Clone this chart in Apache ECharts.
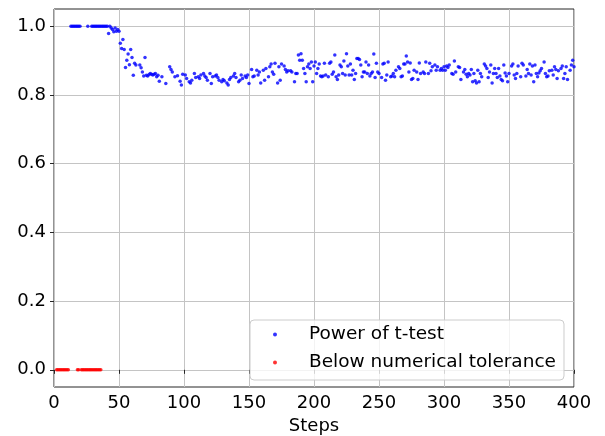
<!DOCTYPE html>
<html>
<head>
<meta charset="utf-8">
<script src="https://cdn.jsdelivr.net/npm/echarts@6/dist/echarts.min.js"></script>
<style>
html,body{margin:0;padding:0;background:#fff;}
#chart{width:605px;height:436px;}
</style>
</head>
<body>
<div id="chart"></div>
<script>
var xTicks = [0, 50, 100, 150, 200, 250, 300, 350, 400];
var yTicks = [0, 0.2, 0.4, 0.6, 0.8, 1.0];
var seriesNames = ['Power of t-test', 'Below numerical tolerance'];

// [step, power]
var powerPoints = [
[13,1],[14,1],[15,1],[16,1],[17,1],[18,1],[19,1],[20,1],[26,1],
[29,1],[30,1],[31,1],[32,1],[33,1],[34,1],[35,1],[36,1],[37,1],[38,1],[39,1],[40,1],[41,1],
[42,0.979],[43,1.0],[44,0.995],[45,0.99],[46,0.984],[47,0.995],[48,0.985],[49,0.99],[50,0.985],
[51,0.95],[52,0.935],[53,0.961],[54,0.932],[55,0.88],[56,0.901],[57,0.919],[58,0.888],[59,0.932],
[60,0.909],[61,0.857],[62,0.892],[63,0.887],[66,0.887],[67,0.879],[68,0.867],[69,0.855],[70,0.909],
[71,0.857],[72,0.855],[73,0.859],[74,0.862],[75,0.860],[76,0.858],[77,0.860],[78,0.862],[79,0.853],
[80,0.857],[81,0.84],[83,0.853],[86,0.833],[89,0.882],[90,0.874],[91,0.867],[93,0.853],[95,0.856],
[97,0.84],[98,0.829],[99,0.86],
[101,0.858],[102,0.848],[104,0.838],[105,0.835],[106,0.843],[108,0.862],[109,0.851],[111,0.853],
[112,0.848],[113,0.858],[115,0.862],[116,0.855],[117,0.851],[118,0.843],[120,0.862],[121,0.833],
[122,0.853],[124,0.855],[125,0.858],[126,0.851],[127,0.843],[129,0.838],[130,0.845],[131,0.841],
[133,0.835],[134,0.829],[135,0.845],[136,0.851],[138,0.855],[139,0.862],[140,0.851],[142,0.838],
[143,0.843],[144,0.858],[145,0.848],[147,0.855],[148,0.851],[149,0.858],[150,0.833],[152,0.874],
[153,0.853],[154,0.855],[156,0.872],[157,0.858],[158,0.867],[159,0.835],[161,0.872],[162,0.843],
[163,0.877],[165,0.853],[166,0.882],[167,0.890],[168,0.867],[169,0.860],[170,0.892],[172,0.835],
[173,0.882],[174,0.843],[175,0.890],[177,0.884],[178,0.874],[179,0.867],[180,0.870],[182,0.870],
[183,0.867],[185,0.838],[186,0.862],[187,0.862],[188,0.916],[189,0.901],[190,0.920],[191,0.901],
[192,0.877],[193,0.862],[194,0.838],[195,0.882],[196,0.890],[197,0.877],[198,0.896],[199,0.838],
[200,0.884],
[201,0.896],[202,0.862],[203,0.877],[204,0.890],[205,0.855],[206,0.853],[207,0.855],[208,0.892],
[209,0.858],[211,0.853],[212,0.892],[213,0.896],[214,0.860],[215,0.867],[216,0.916],[217,0.853],
[218,0.845],[219,0.858],[220,0.887],[221,0.882],[222,0.862],[223,0.899],[224,0.858],[225,0.920],
[226,0.884],[227,0.858],[228,0.890],[229,0.858],[230,0.872],[231,0.845],[232,0.862],[233,0.906],
[234,0.906],[235,0.903],[236,0.887],[237,0.853],[238,0.867],[239,0.867],[240,0.896],[241,0.862],
[242,0.887],[243,0.855],[244,0.862],[245,0.867],[246,0.919],[247,0.851],[248,0.892],[249,0.867],
[250,0.862],[252,0.851],[253,0.890],[254,0.892],[255,0.843],[256,0.858],[257,0.896],[259,0.853],
[260,0.855],[261,0.862],[262,0.853],[263,0.872],[265,0.882],[266,0.877],[267,0.853],[268,0.855],
[269,0.890],[270,0.890],[271,0.913],[272,0.896],[273,0.867],[274,0.893],[275,0.845],[276,0.848],
[277,0.872],[279,0.867],[280,0.845],[281,0.893],[282,0.862],[284,0.867],[285,0.862],[286,0.896],
[288,0.862],[289,0.892],[290,0.870],[291,0.882],[293,0.887],[294,0.872],[295,0.882],[297,0.872],
[298,0.877],[299,0.872],[300,0.882],
[301,0.872],[302,0.884],[303,0.880],[304,0.887],[306,0.862],[307,0.860],[308,0.899],[309,0.867],
[311,0.882],[312,0.880],[313,0.845],[315,0.867],[316,0.874],[317,0.860],[318,0.853],[319,0.862],
[320,0.858],[321,0.874],[322,0.838],[323,0.862],[324,0.841],[325,0.835],[326,0.872],[327,0.838],
[328,0.862],[329,0.853],[331,0.890],[332,0.884],[333,0.877],[334,0.851],[335,0.867],[336,0.887],
[337,0.835],[338,0.862],[339,0.877],[340,0.862],[341,0.851],[342,0.877],[343,0.855],[344,0.845],
[345,0.841],[346,0.887],[347,0.864],[348,0.855],[349,0.838],[350,0.862],[352,0.884],[353,0.890],
[354,0.858],[355,0.848],[356,0.862],[357,0.884],[359,0.853],[360,0.892],[361,0.887],[363,0.855],
[364,0.874],[365,0.862],[366,0.890],[367,0.858],[368,0.884],[369,0.838],[370,0.887],[371,0.862],
[372,0.853],[373,0.864],[374,0.870],[375,0.877],[377,0.896],[378,0.862],[379,0.853],[380,0.855],
[381,0.870],[383,0.872],[384,0.858],[385,0.882],[386,0.874],[387,0.848],[388,0.870],[390,0.877],
[391,0.884],[392,0.848],[393,0.862],[394,0.882],[395,0.845],[397,0.872],[398,0.887],[399,0.901],
[400,0.882]
];

// [step, value] for steps below numerical tolerance
var tolPoints = [
[2,0],[3,0],[4,0],[5,0],[6,0],[7,0],[8,0],[9,0],[10,0],[11,0],
[18,0],[19,0],[21,0],[22,0],[23,0],[24,0],[25,0],[26,0],[27,0],[28,0],[29,0],
[30,0],[31,0],[32,0],[33,0],[34,0],[35,0],[36,0]
];

var FONT = 'DejaVu Sans';
var chart = echarts.init(document.getElementById('chart'), null, {renderer: 'canvas'});
chart.setOption({
  animation: false,
  backgroundColor: '#ffffff',
  grid: {
    left: 54, right: 31, top: 9, bottom: 49,
    outerBoundsMode: 'none',
    containLabel: false,
    show: true, borderColor: '#262626', borderWidth: 1, backgroundColor: 'transparent'
  },
  legend: {
    orient: 'vertical',
    left: 250, top: 320,
    data: seriesNames,
    icon: 'circle',
    itemWidth: 4, itemHeight: 4,
    itemGap: 9,
    padding: [5, 8, 8, 23],
    backgroundColor: 'rgba(255,255,255,0.8)',
    borderColor: '#cccccc',
    borderWidth: 1,
    borderRadius: 4,
    textStyle: {fontFamily: FONT, fontSize: 18.5, color: '#000', lineHeight: 18, padding: [0, 0, 0, 27]}
  },
  xAxis: {
    type: 'value',
    min: xTicks[0], max: xTicks[xTicks.length - 1], interval: 50,
    name: 'Steps', nameLocation: 'middle', nameGap: 29,
    nameTextStyle: {fontFamily: FONT, fontSize: 18, color: '#000'},
    axisLine: {show: false},
    axisTick: {show: true, inside: false, length: 4, lineStyle: {color: '#262626'}},
    axisLabel: {fontFamily: FONT, fontSize: 18, color: '#000', margin: 7},
    splitLine: {show: true, lineStyle: {color: '#c4c4c4', width: 1}}
  },
  yAxis: {
    type: 'value',
    min: -0.05, max: 1.05,
    axisLine: {show: false},
    axisTick: {show: true, inside: false, length: 4, customValues: yTicks, lineStyle: {color: '#262626'}},
    axisLabel: {
      fontFamily: FONT, fontSize: 18, color: '#000', margin: 8,
      customValues: yTicks,
      formatter: function (v) { return v.toFixed(1); }
    },
    splitLine: {show: true, lineStyle: {color: '#c4c4c4', width: 1}}
  },
  series: [
    {
      name: seriesNames[0], type: 'scatter', data: powerPoints,
      symbol: 'circle', symbolSize: 3.5,
      itemStyle: {color: '#0000ff'}, z: 3
    },
    {
      name: seriesNames[1], type: 'scatter', data: tolPoints,
      symbol: 'circle', symbolSize: 3.5,
      itemStyle: {color: '#ff0000'}, z: 4
    }
  ]
});
</script>
</body>
</html>
